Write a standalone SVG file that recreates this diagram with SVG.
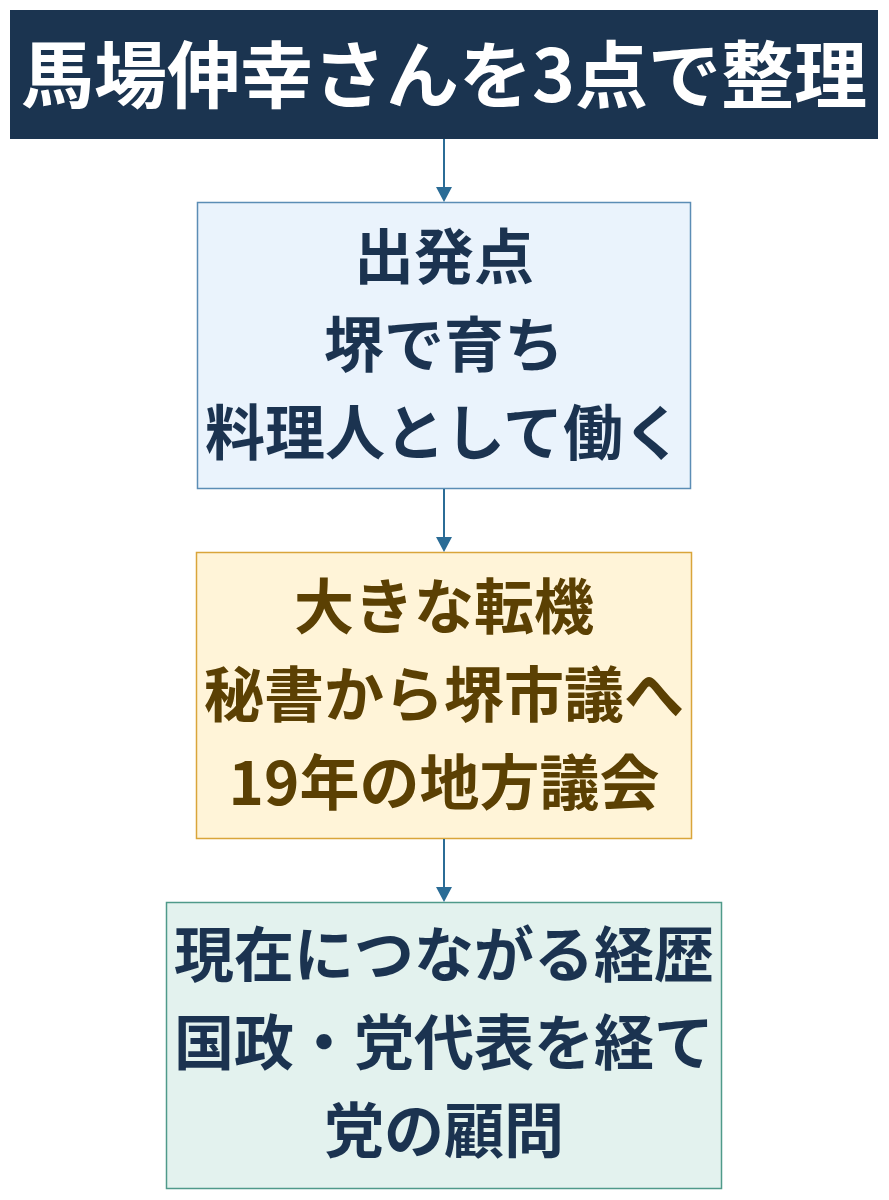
<svg xmlns="http://www.w3.org/2000/svg" width="889" height="1200" viewBox="0 0 889 1200">
<style>
text{font-family:"Noto Sans CJK JP","Noto Sans CJK SC",sans-serif;font-weight:700;text-anchor:middle}
.t{font-size:73px;fill:#ffffff}
.b{font-size:60px}
.navy{fill:#1b3350}
.brown{fill:#5b4003}
.edge{stroke:#2b6c96;stroke-width:2;fill:none}
</style>
<rect width="889" height="1200" fill="#ffffff"/>
<g id="title">
<rect x="10" y="10" width="868" height="129" fill="#1b3450"/>
<text class="t" x="444" y="102">馬場伸幸さんを3点で整理</text>
</g>
<g id="node1">
<rect x="197.5" y="202.5" width="493" height="286" fill="#eaf3fc" stroke="#5b8db5" stroke-width="1.5"/>
<text class="b navy" x="444" y="279">出発点</text>
<text class="b navy" x="444" y="367">堺で育ち</text>
<text class="b navy" x="444" y="455">料理人として働く</text>
</g>
<g id="node2">
<rect x="196.5" y="552.5" width="495" height="286" fill="#fff4d8" stroke="#d9a53a" stroke-width="1.5"/>
<text class="b brown" x="444" y="629">大きな転機</text>
<text class="b brown" x="444" y="717">秘書から堺市議へ</text>
<text class="b brown" x="444" y="805">19年の地方議会</text>
</g>
<g id="node3">
<rect x="166.5" y="902.5" width="555" height="286" fill="#e3f2ee" stroke="#4f9a8a" stroke-width="1.5"/>
<text class="b navy" x="444" y="977">現在につながる経歴</text>
<text class="b navy" x="444" y="1065">国政・党代表を経て</text>
<text class="b navy" x="444" y="1153">党の顧問</text>
</g>
<g id="connectors">
<line class="edge" x1="444" y1="139" x2="444" y2="187" />
<path d="M436,187 L452,187 L444,202 Z" fill="#2b6c96"/>
<line class="edge" x1="444" y1="489" x2="444" y2="537" />
<path d="M436,537 L452,537 L444,552 Z" fill="#2b6c96"/>
<line class="edge" x1="444" y1="839" x2="444" y2="887" />
<path d="M436,887 L452,887 L444,902 Z" fill="#2b6c96"/>
</g>
</svg>
